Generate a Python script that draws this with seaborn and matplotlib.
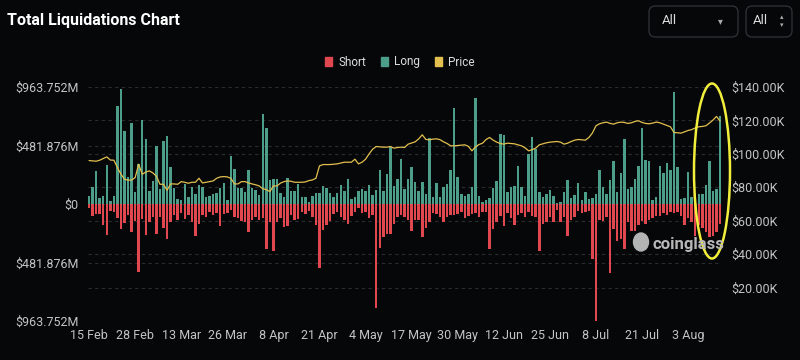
import numpy as np
import pandas as pd
import matplotlib
matplotlib.use("Agg")
import matplotlib.pyplot as plt
import seaborn as sns
from matplotlib.patches import Ellipse, FancyBboxPatch, Patch

# ---------------- data (values in $M for liquidations, $K for price) ----------------
tick_days = [0, 13, 26, 39, 52, 65, 78, 91, 104, 117, 130, 143, 156, 169]
tick_labels = ["15 Feb", "28 Feb", "13 Mar", "26 Mar", "8 Apr", "21 Apr", "4 May",
               "17 May", "30 May", "12 Jun", "25 Jun", "8 Jul", "21 Jul", "3 Aug"]

long_m = [
    66, 136, 270, 50, 62, 320, 28, 62, 810, 945,
    600, 222, 665, 98, 326, 690, 532, 110, 188, 475,
    127, 518, 562, 308, 135, 45, 35, 163, 60, 141,
    85, 158, 141, 58, 66, 80, 94, 130, 175, 30,
    398, 290, 130, 130, 100, 283, 130, 115, 75, 740,
    630, 200, 210, 210, 90, 55, 214, 108, 108, 166,
    55, 55, 15, 66, 90, 90, 150, 130, 94, 55,
    90, 158, 108, 205, 42, 61, 108, 125, 108, 158,
    75, 116, 277, 108, 247, 468, 152, 208, 374, 125,
    208, 305, 185, 108, 180, 80, 545, 61, 170, 61,
    136, 163, 282, 790, 219, 86, 69, 80, 141, 873,
    66, 19, 33, 53, 130, 191, 579, 565, 102, 144,
    150, 310, 136, 69, 415, 554, 454, 102, 61, 80,
    116, 69, 10, 19, 97, 200, 53, 75, 169, 33,
    102, 39, 53, 86, 277, 136, 86, 194, 352, 102,
    255, 538, 122, 144, 205, 310, 623, 366, 357, 33,
    61, 316, 255, 338, 283, 920, 302, 39, 53, 260,
    61, 80, 80, 80, 158, 352, 108, 124, 723,
]

short_m = [
    36, 97, 86, 86, 175, 252, 58, 69, 114, 208,
    155, 91, 230, 141, 557, 125, 258, 147, 105, 244,
    105, 197, 285, 147, 91, 133, 78, 125, 91, 147,
    264, 166, 91, 105, 64, 91, 72, 180, 86, 78,
    50, 105, 119, 141, 147, 230, 133, 105, 133, 119,
    374, 147, 390, 147, 119, 188, 183, 91, 133, 127,
    64, 86, 58, 105, 175, 529, 216, 175, 141, 86,
    64, 105, 133, 161, 97, 64, 36, 78, 69, 119,
    91, 853, 363, 271, 244, 244, 161, 105, 91, 105,
    133, 224, 133, 133, 271, 197, 147, 78, 86, 105,
    147, 105, 91, 91, 86, 64, 114, 97, 86, 78,
    105, 64, 69, 369, 208, 147, 97, 180, 78, 119,
    175, 91, 78, 105, 69, 100, 105, 390, 161, 152,
    105, 152, 50, 147, 105, 266, 133, 105, 58, 78,
    64, 58, 451, 960, 133, 141, 105, 568, 202, 307,
    285, 374, 152, 224, 224, 175, 141, 161, 133, 114,
    97, 100, 78, 91, 64, 78, 64, 100, 175, 114,
    152, 260, 175, 200, 230, 271, 263, 230, 161,
]

price_k = [
    96.0, 95.8, 95.6, 96.2, 97.2, 98.2, 96.3, 96.2, 91.8, 87.8,
    84.8, 84.3, 84.3, 85.8, 93.8, 87.8, 89.1, 89.8, 88.6, 86.6,
    81.8, 81.8, 78.2, 82.0, 82.0, 81.8, 83.4, 83.0, 82.4, 83.0,
    83.0, 85.4, 82.6, 83.0, 83.4, 83.8, 85.4, 86.2, 86.4, 86.2,
    85.4, 82.0, 82.0, 83.4, 83.4, 82.6, 82.0, 81.5, 80.8, 79.1,
    78.6, 77.4, 80.8, 80.8, 82.5, 83.4, 83.8, 83.6, 83.0, 83.0,
    83.0, 83.2, 84.0, 84.4, 85.4, 92.8, 93.6, 93.6, 93.6, 93.8,
    94.0, 94.5, 95.0, 95.0, 95.0, 96.8, 94.0, 95.0, 96.8, 100.0,
    102.8, 104.4, 104.2, 104.0, 104.0, 104.4, 103.4, 103.8, 104.0, 103.8,
    105.8, 106.5, 107.2, 109.0, 111.4, 108.6, 108.4, 108.8, 109.0, 108.5,
    107.2, 106.2, 104.8, 104.8, 105.0, 105.2, 105.4, 104.5, 101.8, 104.2,
    105.6, 106.4, 108.6, 109.8, 108.2, 107.0, 106.2, 105.8, 106.4, 106.2,
    106.0, 105.4, 104.8, 103.6, 101.8, 102.5, 103.4, 105.4, 106.0, 106.6,
    107.0, 107.2, 107.4, 107.0, 105.8, 106.4, 107.4, 108.2, 108.6, 108.4,
    108.2, 109.8, 112.5, 116.8, 118.0, 118.6, 119.0, 118.2, 117.8, 118.6,
    119.0, 118.8, 118.2, 118.6, 119.4, 119.8, 118.8, 118.2, 118.0, 118.4,
    119.0, 118.6, 117.8, 117.0, 116.2, 112.8, 112.6, 112.4, 113.2, 114.0,
    114.5, 115.5, 116.2, 116.4, 116.8, 118.4, 120.2, 122.4, 119.6,
]

left_ticks = [-963.752, -481.876, 0, 481.876, 963.752]
right_ticks = [20000, 40000, 60000, 80000, 100000, 120000, 140000]

# ---------------- style ----------------
BG = "#060709"
TEAL = "#4c9e8b"
RED = "#e0474f"
YEL = "#e2bf4e"
GRID = "#2b2c30"
TXT = "#c4c4c4"

sns.set_theme(style="dark")
plt.rcParams['font.family'] = ['Roboto', 'DejaVu Sans']

fig = plt.figure(figsize=(8, 3.6), dpi=100, facecolor=BG)
ax = fig.add_axes([88 / 800, 1 - 321 / 360, (722 - 88) / 800, (321 - 87) / 360])
ax.set_facecolor(BG)

days = np.arange(len(long_m))
df = pd.DataFrame({
    "day": days,
    "long": np.array(long_m, dtype=float),
    "short": -np.array(short_m, dtype=float),
    "price": np.array(price_k) * 1000.0,
})

sns.barplot(data=df, x="day", y="long", native_scale=True, width=0.7, color=TEAL,
            saturation=1, errorbar=None, ax=ax, zorder=2, linewidth=0)
sns.barplot(data=df, x="day", y="short", native_scale=True, width=0.7, color=RED,
            saturation=1, errorbar=None, ax=ax, zorder=2, linewidth=0)

ax.set_xlim(-0.3, 178.55)
ax.set_ylim(-963.752, 963.752)
ax.set_yticks(left_ticks)
ax.set_yticklabels(["$0" if v == 0 else f"${abs(v):.3f}M" for v in left_ticks])
ax.set_xticks(tick_days)
ax.set_xticklabels(tick_labels)
ax.tick_params(axis="both", colors=TXT, labelsize=9, length=0)
ax.tick_params(axis="y", pad=7)
ax.tick_params(axis="x", pad=6)
ax.set_xlabel("")
ax.set_ylabel("")
ax.grid(False)
for s in ax.spines.values():
    s.set_visible(False)

# dashed grid lines for both axes (drawn behind bars)
lo, hi = ax.get_ylim()
for v in left_ticks:
    ax.axhline(v, color=GRID, lw=0.8, ls=(0, (3, 3)), zorder=0)
for v in right_ticks[:-1]:
    ax.axhline(lo + (hi - lo) * v / 140000.0, color=GRID, lw=0.8, ls=(0, (3, 3)), zorder=0)

ax2 = ax.twinx()
sns.lineplot(data=df, x="day", y="price", color=YEL, lw=0.9, ax=ax2)
ax2.set_ylim(0, 140000)
ax2.set_yticks(right_ticks)
ax2.set_yticklabels([f"${v/1000:.2f}K" for v in right_ticks])
ax2.tick_params(axis="y", colors=TXT, labelsize=9, length=0, pad=7)
ax2.set_ylabel("")
ax2.grid(False)
for s in ax2.spines.values():
    s.set_visible(False)
ax2.set_xlim(ax.get_xlim())

# title
fig.text(7 / 800, 1 - 21 / 360, "Total Liquidations Chart", color="white",
         fontsize=11.5, fontweight="bold", va="center", ha="left")

# legend
handles = [Patch(color=RED, label="Short"), Patch(color=TEAL, label="Long"),
           Patch(color=YEL, label="Price")]
fig.legend(handles=handles, loc="center", bbox_to_anchor=(400 / 800, 1 - 62 / 360),
           ncol=3, frameon=False, fontsize=8.5, labelcolor="#dddddd",
           handlelength=0.6, handleheight=0.9, handletextpad=0.5, columnspacing=1.3)

# dropdown boxes
for x0, w in [(649, 89), (746, 46)]:
    fig.add_artist(FancyBboxPatch((x0 / 800, 1 - 37 / 360), w / 800, 31 / 360,
                                  boxstyle="round,pad=0,rounding_size=0.008",
                                  mutation_aspect=2.2, transform=fig.transFigure,
                                  fill=False, ec="#2e2f33", lw=1))
fig.text(662 / 800, 1 - 21 / 360, "All", color="#dddddd", fontsize=9.5, va="center")
fig.text(718 / 800, 1 - 21 / 360, "▾", color="#aaaaaa", fontsize=7, va="center",
         family=["DejaVu Sans"])
fig.text(753 / 800, 1 - 21 / 360, "All", color="#dddddd", fontsize=9.5, va="center")
fig.text(782 / 800, 1 - 17.5 / 360, "▴", color="#aaaaaa", fontsize=5, va="center",
         ha="center", family=["DejaVu Sans"])
fig.text(782 / 800, 1 - 25 / 360, "▾", color="#aaaaaa", fontsize=5, va="center",
         ha="center", family=["DejaVu Sans"])

# watermark
fig.add_artist(Ellipse((641 / 800, 1 - 242 / 360), 15 / 800, 18 / 360,
                       transform=fig.transFigure, color="#b4b4b4"))
fig.text(688 / 800, 1 - 244 / 360, "coinglass", color="#b8b8b8", fontsize=12,
         fontweight="bold", ha="center", va="center")

# highlight ellipse
fig.add_artist(Ellipse((712 / 800, 1 - 171 / 360), 36 / 800, 175 / 360,
                       transform=fig.transFigure, fill=False, ec="#f2ee3c", lw=1.8))

fig.savefig("out.png", dpi=100, facecolor=BG)
